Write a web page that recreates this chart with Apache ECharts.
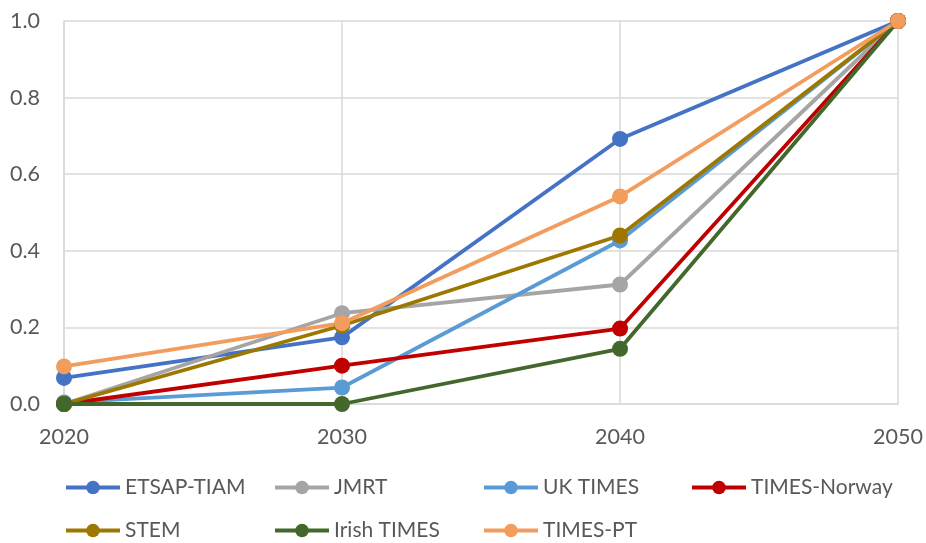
<!DOCTYPE html>
<html>
<head>
<meta charset="utf-8">
<script src="https://cdn.jsdelivr.net/npm/echarts@6/dist/echarts.min.js"></script>
<style>
  html, body { margin: 0; padding: 0; background: #ffffff; }
  #chart { width: 926px; height: 543px; }
</style>
</head>
<body>
<div id="chart"></div>
<script>
// Years on the horizontal axis
const years = [2020, 2030, 2040, 2050];

// Normalised trajectory per model
const etsapTiam   = [0.068, 0.174, 0.692, 1.0];
const jmrt        = [0.0, 0.237, 0.312, 1.0];
const ukTimes     = [0.004, 0.043, 0.427, 1.0];
const timesNorway = [0.0, 0.100, 0.197, 1.0];
const stem        = [0.0, 0.205, 0.440, 1.0];
const irishTimes  = [0.0, 0.0, 0.144, 1.0];
const timesPt     = [0.098, 0.211, 0.542, 1.0];

const seriesNames  = ['ETSAP-TIAM', 'JMRT', 'UK TIMES', 'TIMES-Norway', 'STEM', 'Irish TIMES', 'TIMES-PT'];
const seriesValues = [etsapTiam, jmrt, ukTimes, timesNorway, stem, irishTimes, timesPt];
const seriesColors = ['#4472C4', '#A5A5A5', '#5B9BD5', '#C00000', '#9C7800', '#43682B', '#F29D5E'];

const yTicks = { min: 0, max: 1, interval: 0.2 };

const FONT = 'Lato, "Liberation Sans", sans-serif';

const chart = echarts.init(document.getElementById('chart'), null, { renderer: 'canvas' });

const series = seriesNames.map((name, i) => ({
  name: name,
  type: 'line',
  data: years.map((y, j) => [y, seriesValues[i][j]]),
  symbol: 'circle',
  symbolSize: 16,
  lineStyle: { width: 3.8, color: seriesColors[i] },
  itemStyle: { color: seriesColors[i] },
  emphasis: { disabled: true },
  animation: false
}));

// One legend block per entry, laid out in a 4-column grid
const legendCols = [64, 273, 482, 690];
const legendRows = [477, 520];
const legends = seriesNames.map((name, i) => ({
  data: [name],
  left: legendCols[i % 4],
  top: legendRows[Math.floor(i / 4)],
  padding: 0,
  itemWidth: 54,
  itemHeight: 17,
  itemGap: 0,
  selectedMode: false,
  lineStyle: { width: 4 },
  textStyle: { fontFamily: FONT, fontSize: 21, color: '#595959', padding: [0, 0, 0, 0] }
}));

chart.setOption({
  backgroundColor: '#ffffff',
  animation: false,
  grid: { left: 64, right: 26, top: 21, bottom: 139, containLabel: false },
  legend: legends,
  xAxis: {
    type: 'value',
    min: 2020,
    max: 2050,
    interval: 10,
    axisLine: { show: true, lineStyle: { color: '#d9d9d9', width: 1.5 } },
    axisTick: { show: false },
    splitLine: { show: true, lineStyle: { color: '#d9d9d9', width: 1.5 } },
    axisLabel: { fontFamily: FONT, fontSize: 21.5, color: '#595959', margin: 22, formatter: v => String(v) }
  },
  yAxis: {
    type: 'value',
    min: yTicks.min,
    max: yTicks.max,
    interval: yTicks.interval,
    axisLine: { show: true, lineStyle: { color: '#d9d9d9', width: 1.5 } },
    axisTick: { show: false },
    splitLine: { show: true, lineStyle: { color: '#d9d9d9', width: 1.5 } },
    axisLabel: { fontFamily: FONT, fontSize: 21.5, color: '#595959', margin: 24, formatter: v => v.toFixed(1) }
  },
  series: series
});
</script>
</body>
</html>
